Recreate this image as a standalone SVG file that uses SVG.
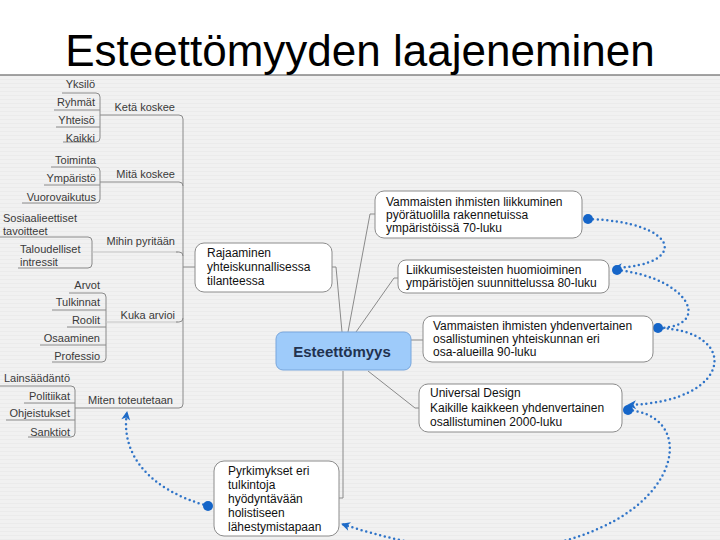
<svg xmlns="http://www.w3.org/2000/svg" width="720" height="540" viewBox="0 0 720 540">
<defs>
<pattern id="stripes" width="8" height="4" patternUnits="userSpaceOnUse">
<rect width="8" height="4" fill="#f1f1f1"/>
<rect y="3" width="8" height="1" fill="#ebebeb"/>
</pattern>
<marker id="arr" markerUnits="userSpaceOnUse" markerWidth="12" markerHeight="12" refX="9" refY="6" orient="auto">
<path d="M1,1.5 L10,6 L1,10.5 L3.5,6 Z" fill="#1e6bc8"/>
</marker>
</defs>
<style>
.lbl{font-family:"Liberation Sans",Arial,sans-serif;font-size:11px;fill:#3a3a3a}
.bt{font-family:"Liberation Sans",Arial,sans-serif;font-size:12px;fill:#111}
.box{fill:#ffffff;stroke:#8c8c8c;stroke-width:1}
.ln{fill:none;stroke:#8a8a8a;stroke-width:1}
.lnl{fill:none;stroke:#c4c4c4;stroke-width:1}
.dl{fill:none;stroke:#2f74c8;stroke-width:2.5;stroke-dasharray:0 4.8;stroke-linecap:round}
.pt{fill:#1565c8}
</style>
<rect x="0" y="0" width="720" height="540" fill="#ffffff"/>
<rect x="0" y="75" width="720" height="465" fill="url(#stripes)"/>
<line x1="0" y1="75" x2="720" y2="75" stroke="#858585" stroke-width="1.5"/>
<text x="360" y="66" text-anchor="middle" font-family="'Liberation Sans',Arial,sans-serif" font-size="44" fill="#000">Esteettömyyden laajeneminen</text>

<g id="connectors">
<path class="ln" d="M62,93 H96 Q100,93 100,97 V138 Q100,142 96,142 H63"/>
<path class="ln" d="M54,110 H100"/>
<path class="ln" d="M56,127 H100"/>
<path class="ln" d="M100,115 H179 Q183,115 183,119 V404 Q183,408 179,408 H75"/>
<path class="ln" d="M51,167 H96 Q100,167 100,171 V199 Q100,203 96,203 H22"/>
<path class="ln" d="M44,185 H100"/>
<path class="ln" d="M100,182 H179 Q183,182 183,186"/>
<path class="ln" d="M0,237 H88 Q92,237 92,241 V264 Q92,268 88,268 H18"/>
<path class="lnl" d="M92,252 H178"/>
<path class="ln" d="M176,252 H179 Q183,252 183,256"/>
<path class="ln" d="M69,293 H102 Q106,293 106,297 V358 Q106,362 102,362 H52"/>
<path class="ln" d="M52,310 H106"/>
<path class="ln" d="M67,327 H106"/>
<path class="ln" d="M40,345 H106"/>
<path class="lnl" d="M106,322 H178"/>
<path class="ln" d="M176,322 H179 Q183,322 183,318"/>
<path class="ln" d="M0,386 H71 Q75,386 75,390 V433 Q75,437 71,437 H28"/>
<path class="ln" d="M24,403 H75"/>
<path class="ln" d="M6,420 H75"/>
<path class="ln" d="M183,267 H195"/>
<path class="ln" d="M332,267 H336 L342,332"/>
<path class="ln" d="M348,332 L370,214 H375"/>
<path class="ln" d="M356,332 L394,278 H398"/>
<path class="ln" d="M411,340 H423"/>
<path class="ln" d="M368,371 L415,408 H419"/>
<path class="ln" d="M343,371 V498 H339"/>
<path class="dl" d="M588,219 C680,222 690,265 614,268" marker-end="url(#arr)"/>
<path class="dl" d="M617,270 C690,278 712,326 660,328"/>
<path class="dl" d="M658,328 C740,330 735,402 628,405" marker-end="url(#arr)"/>
<path class="dl" d="M628,410 C690,415 685,490 600,528 C520,565 420,550 342,524" marker-end="url(#arr)"/>
<path class="dl" d="M208,506 C150,490 120,455 127,412" marker-end="url(#arr)"/>
<circle class="pt" cx="588" cy="219" r="5"/>
<circle class="pt" cx="617" cy="270" r="5"/>
<circle class="pt" cx="658" cy="328" r="5"/>
<circle class="pt" cx="628" cy="410" r="5"/>
<circle class="pt" cx="208" cy="506" r="5"/>
</g>

<g id="n-yksilo"><text class="lbl" x="95" y="88" text-anchor="end">Yksilö</text></g>
<g id="n-ryhmat"><text class="lbl" x="95" y="106" text-anchor="end">Ryhmät</text></g>
<g id="n-yhteiso"><text class="lbl" x="95" y="124" text-anchor="end">Yhteisö</text></g>
<g id="n-kaikki"><text class="lbl" x="95" y="142" text-anchor="end">Kaikki</text></g>
<g id="n-keta"><text class="lbl" x="175" y="111" text-anchor="end">Ketä koskee</text></g>

<g id="n-toiminta"><text class="lbl" x="96" y="164" text-anchor="end">Toiminta</text></g>
<g id="n-ymparisto"><text class="lbl" x="96" y="182" text-anchor="end">Ympäristö</text></g>
<g id="n-vuoro"><text class="lbl" x="96" y="201" text-anchor="end">Vuorovaikutus</text></g>
<g id="n-mita"><text class="lbl" x="175" y="178" text-anchor="end">Mitä koskee</text></g>

<g id="n-sosiaali"><text class="lbl" x="3" y="222">Sosiaalieettiset</text><text class="lbl" x="3" y="235">tavoitteet</text></g>
<g id="n-talous"><text class="lbl" x="20" y="253">Taloudelliset</text><text class="lbl" x="20" y="266">intressit</text></g>
<g id="n-mihin"><text class="lbl" x="175" y="245" text-anchor="end">Mihin pyritään</text></g>

<g id="n-arvot"><text class="lbl" x="100" y="289" text-anchor="end">Arvot</text></g>
<g id="n-tulkinnat"><text class="lbl" x="100" y="306" text-anchor="end">Tulkinnat</text></g>
<g id="n-roolit"><text class="lbl" x="100" y="324" text-anchor="end">Roolit</text></g>
<g id="n-osaaminen"><text class="lbl" x="100" y="342" text-anchor="end">Osaaminen</text></g>
<g id="n-professio"><text class="lbl" x="100" y="360" text-anchor="end">Professio</text></g>
<g id="n-kuka"><text class="lbl" x="175" y="319" text-anchor="end">Kuka arvioi</text></g>

<g id="n-laki"><text class="lbl" x="70" y="382" text-anchor="end">Lainsäädäntö</text></g>
<g id="n-politiikat"><text class="lbl" x="70" y="400" text-anchor="end">Politiikat</text></g>
<g id="n-ohjeet"><text class="lbl" x="70" y="417" text-anchor="end">Ohjeistukset</text></g>
<g id="n-sanktiot"><text class="lbl" x="70" y="436" text-anchor="end">Sanktiot</text></g>
<g id="n-miten"><text class="lbl" x="173" y="404" text-anchor="end">Miten toteutetaan</text></g>

<g id="n-rajaaminen">
<rect class="box" x="195" y="243" width="137" height="49" rx="9"/>
<text class="bt" x="207" y="257">Rajaaminen</text>
<text class="bt" x="207" y="271">yhteiskunnallisessa</text>
<text class="bt" x="207" y="285">tilanteessa</text>
</g>

<g id="n-center">
<rect x="276" y="332" width="135" height="38" rx="7" fill="#9ecbfa" stroke="#78a6dc" stroke-width="1"/>
<text x="342" y="357" text-anchor="middle" font-family="'Liberation Sans',Arial,sans-serif" font-size="15" font-weight="bold" fill="#22324f">Esteettömyys</text>
</g>

<g id="n-70">
<rect class="box" x="375" y="191" width="207" height="47" rx="9"/>
<text class="bt" x="386" y="206">Vammaisten ihmisten liikkuminen</text>
<text class="bt" x="386" y="219">pyörätuolilla rakennetuissa</text>
<text class="bt" x="386" y="232">ympäristöissä 70-luku</text>
</g>

<g id="n-80">
<rect class="box" x="398" y="260" width="211" height="33" rx="8"/>
<text class="bt" x="406" y="274">Liikkumisesteisten huomioiminen</text>
<text class="bt" x="406" y="287">ympäristöjen suunnittelussa 80-luku</text>
</g>

<g id="n-90">
<rect class="box" x="423" y="316" width="230" height="46" rx="9"/>
<text class="bt" x="433" y="330">Vammaisten ihmisten yhdenvertainen</text>
<text class="bt" x="433" y="343">osallistuminen yhteiskunnan eri</text>
<text class="bt" x="433" y="356">osa-alueilla 90-luku</text>
</g>

<g id="n-2000">
<rect class="box" x="419" y="384" width="203" height="48" rx="9"/>
<text class="bt" x="430" y="397">Universal Design</text>
<text class="bt" x="430" y="412">Kaikille kaikkeen yhdenvertainen</text>
<text class="bt" x="430" y="426">osallistuminen 2000-luku</text>
</g>

<g id="n-pyrkimykset">
<rect class="box" x="214" y="461" width="125" height="75" rx="10"/>
<text class="bt" x="228" y="475">Pyrkimykset eri</text>
<text class="bt" x="228" y="489">tulkintoja</text>
<text class="bt" x="228" y="503">hyödyntävään</text>
<text class="bt" x="228" y="517">holistiseen</text>
<text class="bt" x="228" y="531">lähestymistapaan</text>
</g>
</svg>
